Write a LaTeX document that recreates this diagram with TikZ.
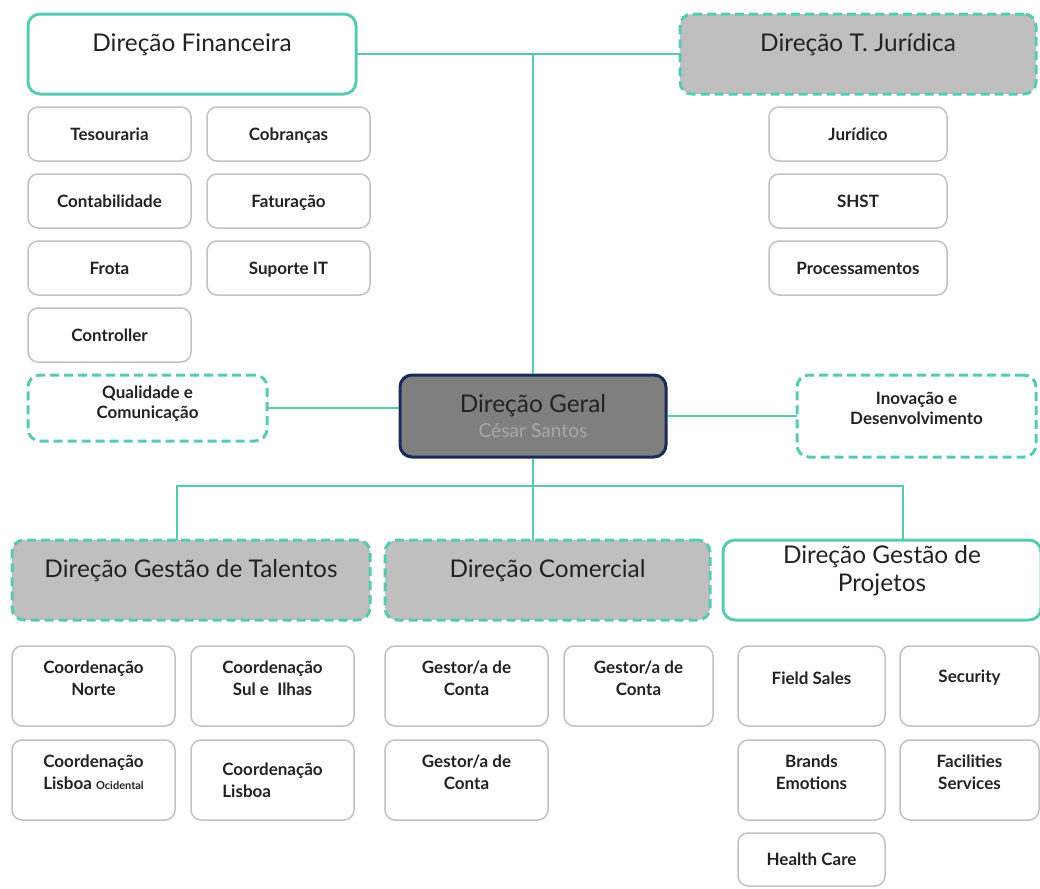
\documentclass[tikz,border=0pt]{standalone}
\usepackage{fontspec}
\setmainfont{Lato}
\usetikzlibrary{positioning}
\definecolor{cteal}{HTML}{58C9B3}
\definecolor{cgray}{HTML}{BFBFBF}
\definecolor{cdark}{HTML}{7F7F7F}
\definecolor{cnavy}{HTML}{1B2A5A}
\definecolor{cline}{HTML}{C2C2C2}
\definecolor{cname}{HTML}{A8A8A8}
\definecolor{ctext}{HTML}{222222}
\newcommand{\headfont}{\fontsize{12.2}{14}\selectfont}
\newcommand{\unitfont}{\fontsize{8.5}{11}\selectfont\bfseries}
\newcommand{\sidefont}{\fontsize{8.5}{10}\selectfont\bfseries}

\begin{document}
\begin{tikzpicture}[x=0.5pt, y=-0.5pt, text=ctext,
    head/.style={draw=cteal, line width=1.5pt, rounded corners=6pt, minimum height=40pt, inner sep=0pt, outer sep=0pt},
    dashbox/.style={dash pattern=on 4.5pt off 2.5pt},
    htext/.style={label={[font=\headfont, align=center, yshift=4.5pt]center:#1}},
    utext/.style={label={[font=\unitfont, align=center, yshift=4pt]center:#1}},
    unit/.style={draw=cline, line width=0.75pt, rounded corners=5pt, minimum width=81.5pt, minimum height=27pt, inner sep=1pt, outer sep=0pt, font=\unitfont, align=center},
    single/.style={unit, text height=7.2pt, text depth=0.8pt},
    low/.style={unit, minimum height=40pt},
    link/.style={draw=cteal, line width=1.2pt}]
    \useasboundingbox (0,0) rectangle (1040,889);

    \node[head, minimum width=164pt, htext={Direção Financeira}] (fin) at (192,54) {};
    \node[head, dashbox, fill=cgray, minimum width=178pt, htext={Direção T. Jurídica}] (jur) at (858,54) {};

    \node[single, below right=6.5pt and 0pt of fin.south west] (tes) {Tesouraria};
    \node[single, right=8pt of tes] (cob) {Cobranças};
    \node[single, below=6.5pt of tes] (cont) {Contabilidade};
    \node[single, right=8pt of cont] (fat) {Faturação};
    \node[single, below=6.5pt of cont] (frota) {Frota};
    \node[single, right=8pt of frota] (sup) {Suporte IT};
    \node[single, below=6.5pt of frota] (ctrl) {Controller};

    \node[single, minimum width=89pt, below=6.5pt of jur] (jurid) {Jurídico};
    \node[single, minimum width=89pt, below=6.5pt of jurid] (shst) {SHST};
    \node[single, minimum width=89pt, below=6.5pt of shst] (proc) {Processamentos};

    \node[draw=cnavy, line width=1.5pt, fill=cdark, rounded corners=6pt, minimum width=133pt, minimum height=41pt, align=center, font=\fontsize{12.2}{12.5}\selectfont] (geral) at (533,416) {Direção Geral\\{\color{cname}\fontsize{9.6}{10}\selectfont César Santos}};
    \node[head, dashbox, minimum width=119.5pt, minimum height=33pt, label={[font=\sidefont, align=center, yshift=2.3pt]center:Qualidade e\\Comunicação}] (qual) at (147.5,408) {};
    \node[head, dashbox, minimum width=119.5pt, minimum height=41pt, label={[font=\sidefont, align=center, yshift=4pt]center:Inovação e\\Desenvolvimento}] (inov) at (916.5,416) {};

    \node[head, dashbox, fill=cgray, minimum width=179pt, htext={Direção Gestão de Talentos}] (tal) at (191,580) {};
    \node[head, dashbox, fill=cgray, minimum width=162.5pt, htext={Direção Comercial}] (com) at (547.5,580) {};
    \node[head, minimum width=159pt, htext={Direção Gestão de\\Projetos}] (proj) at (882,580) {};

    \node[low, below right=13pt and 0pt of tal.south west, utext={Coordenação\\Norte}] (cnorte) {};
    \node[low, right=8pt of cnorte, utext={Coordenação\\Sul e\ \ Ilhas}] (csul) {};
    \node[low, below=7pt of cnorte, utext={Coordenação\\Lisboa {\fontsize{5.5}{6}\selectfont Ocidental}}] (clisoc) {};
    \node[low, right=8pt of clisoc, align=left] (clis) {Coordenação\\Lisboa};

    \node[low, below right=13pt and 0pt of com.south west, utext={Gestor/a de\\Conta}] (gest1) {};
    \node[low, minimum width=74.5pt, right=8pt of gest1, utext={Gestor/a de\\Conta}] (gest2) {};
    \node[low, below=7pt of gest1, utext={Gestor/a de\\Conta}] (gest3) {};

    \node[low, minimum width=73.5pt, below right=13pt and 7.5pt of proj.south west, utext={Field Sales}] (field) {};
    \node[low, minimum width=69.5pt, right=7.5pt of field, utext={Security}] (sec) {};
    \node[low, minimum width=73.5pt, below=7pt of field, utext={Brands\\Emotions}] (brands) {};
    \node[low, minimum width=69.5pt, right=7.5pt of brands, utext={Facilities\\Services}] (facil) {};
    \node[single, minimum width=73.5pt, minimum height=26.5pt, below=6.5pt of brands] (health) {Health Care};

    \coordinate (bus) at (533,486);
    \draw[link] (fin) -- (jur);
    \draw[link] (geral.north) -- (geral.north |- fin.east);
    \draw[link] (qual.east) -- (qual.east -| geral.west);
    \draw[link] (geral) -- (inov);
    \draw[link] (geral.south) -- (geral.south |- com.north);
    \draw[link] ([xshift=-7pt]tal.north) |- (bus) -| ([xshift=10.5pt]proj.north);
\end{tikzpicture}
\end{document}
